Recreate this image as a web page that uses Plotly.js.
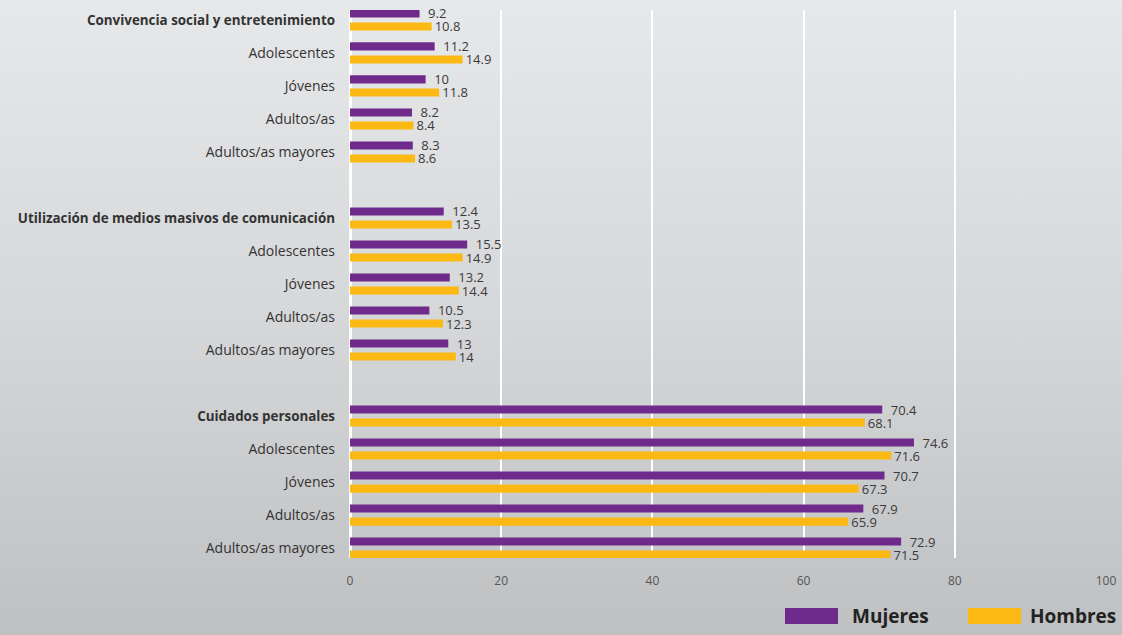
<!DOCTYPE html>
<html>
<head>
<meta charset="utf-8">
<script src="https://cdn.plot.ly/plotly-3.0.1.min.js"></script>
<style>
html,body{margin:0;padding:0;}
body{width:1122px;height:635px;background:linear-gradient(to bottom,#e7e8ea 0%,#d6d7d9 50%,#bfc0c2 100%);}
#chart{width:1122px;height:635px;}
</style>
</head>
<body>
<div id="chart"></div>
<script>
var groups = ['Convivencia social y entretenimiento', 'Utilización de medios masivos de comunicación', 'Cuidados personales'];
var ages = ['Adolescentes', 'Jóvenes', 'Adultos/as', 'Adultos/as mayores'];
var seriesNames = ['Mujeres', 'Hombres'];
// per group: [total, Adolescentes, Jóvenes, Adultos/as, Adultos/as mayores]
var mujeres = [
  [9.2, 11.2, 10, 8.2, 8.3],
  [12.4, 15.5, 13.2, 10.5, 13],
  [70.4, 74.6, 70.7, 67.9, 72.9]
];
var hombres = [
  [10.8, 14.9, 11.8, 8.4, 8.6],
  [13.5, 14.9, 14.4, 12.3, 14],
  [68.1, 71.6, 67.3, 65.9, 71.5]
];
var xTicks = [0, 20, 40, 60, 80, 100];

var purple = '#702a8c';
var yellow = '#fcb913';

// Build category rows
var keys = [], ticktext = [], yM = [], xM = [], yH = [], xH = [];
groups.forEach(function (g, gi) {
  if (gi > 0) { keys.push('blank' + gi); ticktext.push(''); }
  var labels = ['<b><span style="font-size:13.4px">' + g + '</span></b>'].concat(ages);
  labels.forEach(function (lab, ri) {
    var k = 'g' + gi + 'r' + ri;
    keys.push(k); ticktext.push(lab);
    yM.push(k); xM.push(mujeres[gi][ri]);
    yH.push(k); xH.push(hombres[gi][ri]);
  });
});

var n = keys.length;
var common = {
  type: 'bar', orientation: 'h', textposition: 'outside', cliponaxis: false,
  constraintext: 'none',
  textfont: {family: 'Open Sans, sans-serif', size: 13, color: '#3a3a3a'},
  hoverinfo: 'x+name'
};
var t1 = Object.assign({}, common, {
  name: seriesNames[0], x: xM, y: yM,
  text: xM.map(function (v) { return '\u00a0\u2009' + v; }),
  marker: {color: purple}
});
var t2 = Object.assign({}, common, {
  name: seriesNames[1], x: xH, y: yH, text: xH.map(String),
  marker: {color: yellow}
});

var layout = {
  width: 1122, height: 635,
  paper_bgcolor: 'rgba(0,0,0,0)', plot_bgcolor: 'rgba(0,0,0,0)',
  margin: {l: 350, r: 16, t: 10, b: 77},
  barmode: 'group', bargap: 0.21, bargroupgap: 0.38,
  showlegend: false,
  font: {family: 'Open Sans, sans-serif', color: '#333'},
  xaxis: {
    range: [0, 100], tickvals: xTicks, ticktext: xTicks.map(String),
    showgrid: true, gridcolor: '#ffffff', gridwidth: 2,
    zeroline: true, zerolinecolor: '#ffffff', zerolinewidth: 3,
    showline: false, ticks: '', ticklabelstandoff: 14,
    tickfont: {family: 'Open Sans, sans-serif', size: 12, color: '#555'},
    fixedrange: true
  },
  yaxis: {
    type: 'category', categoryorder: 'array', categoryarray: keys,
    tickvals: keys, ticktext: ticktext,
    range: [n - 1 + 0.3, -0.3],
    showgrid: false, zeroline: false, showline: false,
    ticks: '', ticklabelstandoff: 14,
    tickfont: {family: 'Open Sans, sans-serif', size: 14, color: '#333'},
    fixedrange: true
  },
  shapes: [
    {type: 'rect', xref: 'paper', yref: 'paper', x0: 435/756, x1: 488/756, y0: -66/548, y1: -50/548,
     fillcolor: purple, line: {width: 0}},
    {type: 'rect', xref: 'paper', yref: 'paper', x0: 618/756, x1: 671/756, y0: -66/548, y1: -50/548,
     fillcolor: yellow, line: {width: 0}}
  ],
  annotations: [
    {xref: 'paper', yref: 'paper', x: 500/756, y: -58/548, xanchor: 'left', yanchor: 'middle',
     text: '<b>' + seriesNames[0] + '</b>', showarrow: false,
     font: {family: 'Open Sans, sans-serif', size: 19, color: '#222'}},
    {xref: 'paper', yref: 'paper', x: 678/756, y: -58/548, xanchor: 'left', yanchor: 'middle',
     text: '<b>' + seriesNames[1] + '</b>', showarrow: false,
     font: {family: 'Open Sans, sans-serif', size: 19, color: '#222'}}
  ]
};

Plotly.newPlot('chart', [t1, t2], layout, {displayModeBar: false, staticPlot: true});
</script>
</body>
</html>
